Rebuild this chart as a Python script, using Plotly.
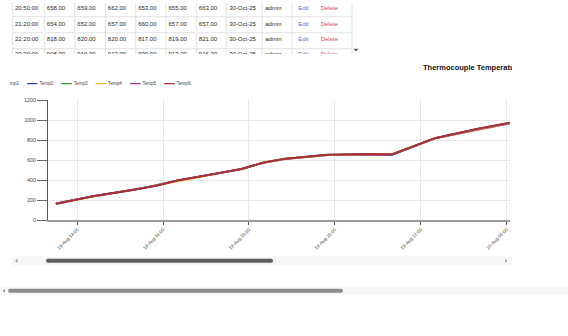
import plotly.graph_objects as go

W, H = 568, 336
FONT = "Liberation Sans, Arial, sans-serif"

# ---------------- chart data ----------------
times = ["2025-08-19 13:30", "2025-08-19 14:20", "2025-08-19 15:20", "2025-08-19 15:50",
         "2025-08-19 16:20", "2025-08-19 17:20", "2025-08-19 17:50", "2025-08-19 18:20",
         "2025-08-19 18:50", "2025-08-19 19:50", "2025-08-19 20:50", "2025-08-19 21:20",
         "2025-08-19 22:20", "2025-08-19 23:20", "2025-08-20 00:20"]
temp1 = [164, 235, 305, 345, 395, 475, 512, 575, 612, 652, 658, 654, 818, 908, 990]
temp2 = [160, 238, 303, 347, 398, 472, 515, 572, 610, 650, 659, 652, 820, 910, 992]
temp3 = [168, 236, 307, 344, 396, 476, 510, 577, 614, 654, 662, 657, 820, 913, 995]
temp4 = [162, 233, 304, 346, 393, 474, 513, 574, 611, 651, 653, 660, 817, 909, 991]
temp5 = [165, 237, 306, 343, 397, 473, 511, 576, 613, 655, 655, 657, 819, 913, 994]
temp6 = [163, 234, 305, 345, 394, 475, 512, 575, 612, 653, 663, 657, 821, 916, 996]
series_names = ["Temp1", "Temp2", "Temp3", "Temp4", "Temp5", "Temp6"]
series_colors = ["#a8282c", "#3a3aff", "#2e9e2e", "#ffb020", "#a030a8", "#a8302e"]

# ---------------- table data ----------------
tbl_time = ["20:50:00", "21:20:00", "22:20:00", "23:20:00"]
tbl_t1 = [658, 654, 818, 908]
tbl_t2 = [659, 652, 820, 910]
tbl_t3 = [662, 657, 820, 913]
tbl_t4 = [653, 660, 817, 909]
tbl_t5 = [655, 657, 819, 913]
tbl_t6 = [663, 657, 821, 916]
tbl_date = ["30-Oct-25", "30-Oct-25", "30-Oct-25", "30-Oct-25"]
tbl_user = ["admin", "admin", "admin", "admin"]
tbl_edit = ["Edit", "Edit", "Edit", "Edit"]
tbl_delete = ["Delete", "Delete", "Delete", "Delete"]
title_text = "Thermocouple Temperature"

# ---------------- layout constants (pixels) ----------------
col_edges = [12.3, 44.3, 74.7, 105.3, 135.7, 166, 196.3, 226.7, 262.3, 292, 352]
text_x = [15, 46.8, 77.3, 107.8, 138.2, 168.5, 198.8, 229.2, 265.2, 298.3, 320.7]
row_y = [5.8 + 15.6 * i for i in range(4)]
row_lines = [14 + 16.3 * i for i in range(3)]

fig = go.Figure()

# main chart lines
for name, vals, col in zip(series_names, [temp1, temp2, temp3, temp4, temp5, temp6], series_colors):
    fig.add_trace(go.Scatter(x=times, y=vals, mode="lines", name=name,
                             line=dict(color=col, width=1.8), showlegend=False,
                             xaxis="x", yaxis="y"))

# table text
fmt = lambda v: "%.2f" % v
columns = [(tbl_time, "#2a2a2a"), ([fmt(v) for v in tbl_t1], "#2a2a2a"), ([fmt(v) for v in tbl_t2], "#2a2a2a"),
           ([fmt(v) for v in tbl_t3], "#2a2a2a"), ([fmt(v) for v in tbl_t4], "#2a2a2a"),
           ([fmt(v) for v in tbl_t5], "#2a2a2a"), ([fmt(v) for v in tbl_t6], "#2a2a2a"),
           (tbl_date, "#2a2a2a"), (tbl_user, "#2a2a2a"), (tbl_edit, "#3b7ddd"), (tbl_delete, "#e0455c")]
for j, (vals, col) in enumerate(columns):
    fig.add_trace(go.Scatter(x=[text_x[j]] * len(vals), y=row_y[:len(vals)], mode="text",
                             text=vals, textposition="middle right",
                             textfont=dict(size=6, color=col, family=FONT),
                             showlegend=False, xaxis="x2", yaxis="y2", cliponaxis=True))

# header: title + legend (clipped)
fig.add_trace(go.Scatter(x=[423], y=[66], mode="text", text=["<b>" + title_text + "</b>"],
                         textposition="middle right",
                         textfont=dict(size=7.5, color="#111", family=FONT),
                         showlegend=False, xaxis="x3", yaxis="y3", cliponaxis=True))
for k, (name, col) in enumerate(zip(series_names, series_colors)):
    x0 = -7.3 + 34.3 * k
    fig.add_trace(go.Scatter(x=[x0, x0 + 10.5], y=[82, 82], mode="lines",
                             line=dict(color=col, width=1.3), showlegend=False,
                             xaxis="x3", yaxis="y3"))
    fig.add_trace(go.Scatter(x=[x0 + 12.5], y=[82], mode="text", text=[name],
                             textposition="middle right",
                             textfont=dict(size=4.6, color="#444", family=FONT),
                             showlegend=False, xaxis="x3", yaxis="y3", cliponaxis=True))

# page overlay (empty) for shapes
fig.add_trace(go.Scatter(x=[], y=[], xaxis="x4", yaxis="y4", showlegend=False))

shapes = []
def line(x0, y0, x1, y1, color, w):
    shapes.append(dict(type="line", xref="x4", yref="y4", x0=x0, y0=y0, x1=x1, y1=y1,
                       line=dict(color=color, width=w)))
def rect(x0, y0, x1, y1, color):
    shapes.append(dict(type="rect", xref="x4", yref="y4", x0=x0, y0=y0, x1=x1, y1=y1,
                       fillcolor=color, line=dict(width=0)))
def pill(x0, x1, yc, h, color):
    # rounded bar: thick line with round-ish ends made of rect + circles
    r = h / 2
    rect(x0 + r, yc - r, x1 - r, yc + r, color)
    for cx in (x0 + r, x1 - r):
        shapes.append(dict(type="circle", xref="x4", yref="y4", x0=cx - r, y0=yc - r,
                           x1=cx + r, y1=yc + r, fillcolor=color, line=dict(width=0)))
def tri(pts, color):
    p = "M " + " L ".join(f"{x},{y}" for x, y in pts) + " Z"
    shapes.append(dict(type="path", xref="x4", yref="y4", path=p, fillcolor=color, line=dict(width=0)))

# table grid
for x in col_edges:
    line(x, 0, x, 52, "#e2e2e2", 1)
for y in row_lines:
    line(col_edges[0], y, col_edges[-1], y, "#e2e2e2", 1)
tri([(353.5, 46.5), (358.5, 46.5), (356, 49.5)], "#555")

# inner horizontal scrollbar
rect(12, 258, 512, 267, "#f6f6f6")
pill(46, 273, 262.5, 4, "#5e5e5e")
tri([(17.5, 260.5), (17.5, 264.5), (15, 262.5)], "#9a9a9a")
tri([(505, 260.5), (505, 264.5), (507.5, 262.5)], "#9a9a9a")

# outer horizontal scrollbar
rect(0, 289, 568, 297, "#f6f6f6")
pill(8, 343, 293, 4, "#8c8c8c")
tri([(5, 291), (5, 295), (2.5, 293)], "#9a9a9a")

fig.update_layout(
    width=W, height=H, autosize=False,
    margin=dict(l=0, r=0, t=0, b=0, pad=0),
    paper_bgcolor="white", plot_bgcolor="rgba(0,0,0,0)",
    hovermode=False, showlegend=False,
    font=dict(family=FONT, color="#444"),
    shapes=shapes,
    xaxis=dict(domain=[48 / W, 510 / W], anchor="y", type="date",
               range=["2025-08-19 13:19", "2025-08-20 00:05"],
               tick0="2025-08-19 14:00", dtick=7200000, tickformat="%d-%b %H:%M",
               tickangle=-45, ticks="outside", ticklen=3, tickcolor="#555",
               showline=True, linecolor="#9a9a9a", linewidth=2,
               showgrid=True, gridcolor="#e6e6e6", zeroline=False,
               tickfont=dict(size=4.7, color="#444")),
    yaxis=dict(domain=[1 - 221 / H, 1 - 99 / H], anchor="x", range=[0, 1200], dtick=200,
               ticks="outside", ticklen=10, tickcolor="#666",
               showline=True, linecolor="#555", linewidth=1,
               showgrid=True, gridcolor="#e6e6e6", zeroline=False,
               tickfont=dict(size=5.3, color="#444")),
    xaxis2=dict(domain=[0, 1], anchor="y2", range=[0, W], visible=False, fixedrange=True),
    yaxis2=dict(domain=[1 - 52 / H, 1], anchor="x2", range=[52, 0], visible=False, fixedrange=True),
    xaxis3=dict(domain=[10 / W, 512 / W], anchor="y3", range=[10, 512], visible=False, fixedrange=True),
    yaxis3=dict(domain=[1 - 92 / H, 1 - 56 / H], anchor="x3", range=[92, 56], visible=False, fixedrange=True),
    xaxis4=dict(domain=[0, 1], anchor="y4", range=[0, W], visible=False, fixedrange=True),
    yaxis4=dict(domain=[0, 1], anchor="x4", range=[H, 0], visible=False, fixedrange=True),
)

fig.write_html("out.html", config={"displayModeBar": False})
